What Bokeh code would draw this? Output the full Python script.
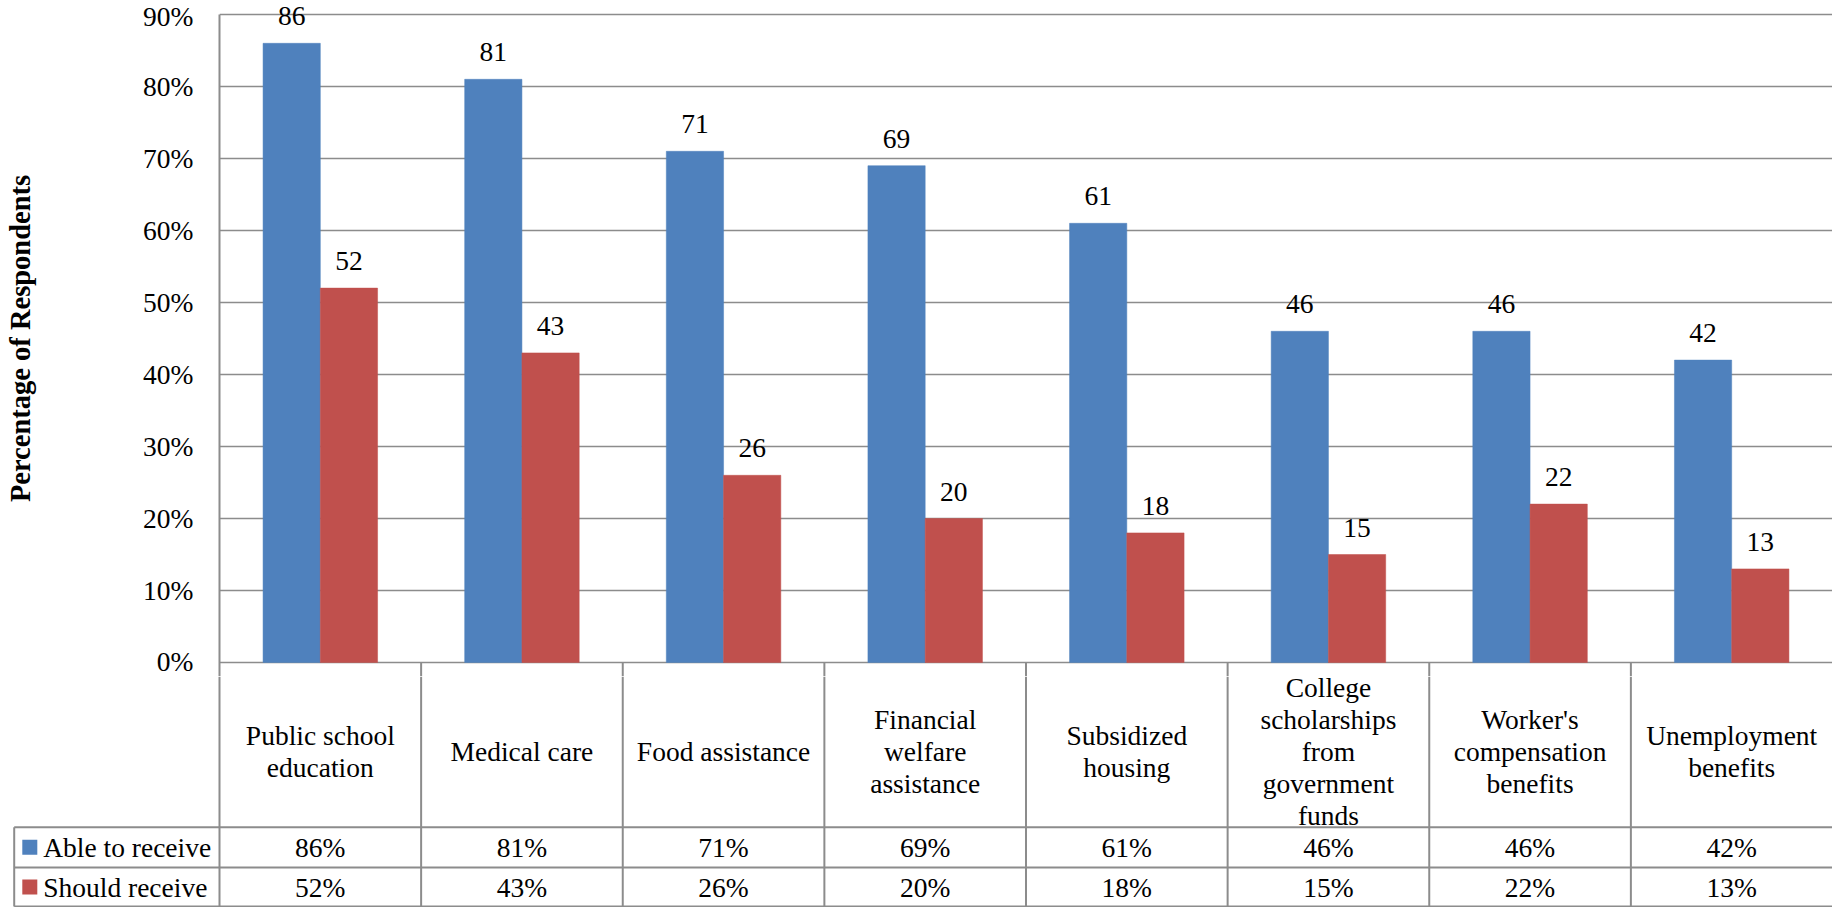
from bokeh.plotting import figure
from bokeh.layouts import column
from bokeh.models import Range1d, FixedTicker, PrintfTickFormatter
from bokeh.core.properties import value
from bokeh.embed import file_html
from bokeh.resources import INLINE

# ---- data -------------------------------------------------------------
categories = [
    "Public school\neducation",
    "Medical care",
    "Food assistance",
    "Financial\nwelfare\nassistance",
    "Subsidized\nhousing",
    "College\nscholarships\nfrom\ngovernment\nfunds",
    "Worker's\ncompensation\nbenefits",
    "Unemployment\nbenefits",
]
able_to_receive = [86, 81, 71, 69, 61, 46, 46, 42]
should_receive = [52, 43, 26, 20, 18, 15, 22, 13]
series_names = ["Able to receive", "Should receive"]
y_ticks = [0, 10, 20, 30, 40, 50, 60, 70, 80, 90]
y_title = "Percentage of Respondents"

# ---- style ------------------------------------------------------------
BLUE = "#4F81BD"
RED = "#C0504D"
GRID = "#8C8C8C"
FONT = "Liberation Serif"
FS = "27.5px"

W = 1832
H = 907
LEFT = 219                      # pixel where the value axis sits
BASE = 662                      # pixel row of the 0 % line
CAT_BOTTOM = 826.7              # pixel row under the category-name cells
SPLIT = 676                     # chart part / table part boundary
n = len(categories)
col_w = (W - LEFT) / n          # pixels per category column
px_per_pct = (BASE - 14) / 90   # pixels per percentage point
y_low = -(SPLIT - BASE) / px_per_pct

centers = [i + 0.5 for i in range(n)]
bar_w = 0.284
off = bar_w / 2

# ---- chart --------------------------------------------------------------
p1 = figure(width=W, height=SPLIT, title=None,
            x_range=Range1d(0, n), y_range=Range1d(y_low, BASE / px_per_pct),
            x_axis_type=None, output_backend="svg", toolbar_location=None,
            min_border_left=LEFT, min_border_right=0, min_border_top=0,
            min_border_bottom=0)
p1.frame_align = False
p1.outline_line_color = None
p1.background_fill_color = "white"

yax = p1.yaxis[0]
yax.ticker = FixedTicker(ticks=y_ticks)
yax.formatter = PrintfTickFormatter(format="%d%%")
yax.bounds = (y_low, 90)
yax.major_tick_line_color = None
yax.minor_tick_line_color = None
yax.major_label_standoff = 20
yax.axis_line_color = GRID
yax.axis_line_width = 2
yax.major_label_text_font = FONT
yax.major_label_text_font_size = FS
yax.major_label_text_color = "black"
yax.axis_label = y_title
yax.axis_label_text_font = FONT
yax.axis_label_text_font_style = "bold"
yax.axis_label_text_font_size = "28.5px"
yax.axis_label_text_color = "black"
yax.axis_label_standoff = 104

p1.ygrid.ticker = FixedTicker(ticks=y_ticks)
p1.ygrid.grid_line_color = GRID
p1.ygrid.grid_line_width = 1.6

able_x = [c - off for c in centers]
should_x = [c + off for c in centers]
p1.vbar(x=able_x, top=able_to_receive, width=bar_w, bottom=0,
        fill_color=BLUE, line_color=BLUE, line_width=0.5)
p1.vbar(x=should_x, top=should_receive, width=bar_w, bottom=0,
        fill_color=RED, line_color=RED, line_width=0.5)

lab_gap = 27 / px_per_pct
p1.text(x=able_x, y=[v + lab_gap for v in able_to_receive],
        text=[str(v) for v in able_to_receive],
        text_align="center", text_baseline="alphabetic",
        text_font=value(FONT), text_font_size=FS, text_color="black")
p1.text(x=should_x, y=[v + lab_gap for v in should_receive],
        text=[str(v) for v in should_receive],
        text_align="center", text_baseline="alphabetic",
        text_font=value(FONT), text_font_size=FS, text_color="black")

# top ends of the table's column rules, just under the 0 % line
rule_x = list(range(1, n))
p1.segment(x0=rule_x, x1=rule_x, y0=[0] * len(rule_x), y1=[y_low] * len(rule_x),
           line_color=GRID, line_width=2)

# ---- data table: category names, legend and values ---------------------
BOT_H = H - SPLIT
x_left = -LEFT / col_w
p2 = figure(width=W, height=BOT_H, title=None,
            x_range=Range1d(x_left, n), y_range=Range1d(BOT_H, 0),
            x_axis_type=None, y_axis_type=None,
            output_backend="svg", toolbar_location=None, min_border=0)
p2.frame_align = False
p2.outline_line_color = None
p2.xgrid.visible = False
p2.ygrid.visible = False

legend_left = x_left + 13.7 / col_w
row_cat = CAT_BOTTOM - SPLIT
row_a = 867.0 - SPLIT
row_b = 906.0 - SPLIT

hx0 = [legend_left, legend_left, legend_left]
hx1 = [n, n, n]
hy = [row_cat, row_a, row_b]
p2.segment(x0=hx0, x1=hx1, y0=hy, y1=hy, line_color=GRID, line_width=2)
vx = list(range(n)) + [legend_left]
vy0 = [0] * n + [row_cat]
vy1 = [row_b] * (n + 1)
p2.segment(x0=vx, x1=vx, y0=vy0, y1=vy1, line_color=GRID, line_width=2)

cat_mid = (BASE + CAT_BOTTOM) / 2 + 7 - SPLIT
p2.text(x=centers, y=[cat_mid] * n, text=categories,
        text_align="center", text_baseline="middle", text_line_height=1.03,
        text_font=value(FONT), text_font_size=FS, text_color="black")
p2.text(x=centers, y=[(row_cat + row_a) / 2] * n,
        text=[f"{v}%" for v in able_to_receive],
        text_align="center", text_baseline="middle",
        text_font=value(FONT), text_font_size=FS, text_color="black")
p2.text(x=centers, y=[(row_a + row_b) / 2] * n,
        text=[f"{v}%" for v in should_receive],
        text_align="center", text_baseline="middle",
        text_font=value(FONT), text_font_size=FS, text_color="black")

sq_x = x_left + 29.3 / col_w
txt_x = x_left + 42.7 / col_w
row_mid = [(row_cat + row_a) / 2, (row_a + row_b) / 2]
p2.rect(x=[sq_x, sq_x], y=row_mid, width=15, height=15,
        width_units="screen", height_units="screen",
        fill_color=[BLUE, RED], line_color=None)
p2.text(x=[txt_x, txt_x], y=row_mid, text=series_names,
        text_align="left", text_baseline="middle",
        text_font=value(FONT), text_font_size=FS, text_color="black")

layout = column(p1, p2, spacing=0)
open("out.html", "w").write(file_html(layout, INLINE))
